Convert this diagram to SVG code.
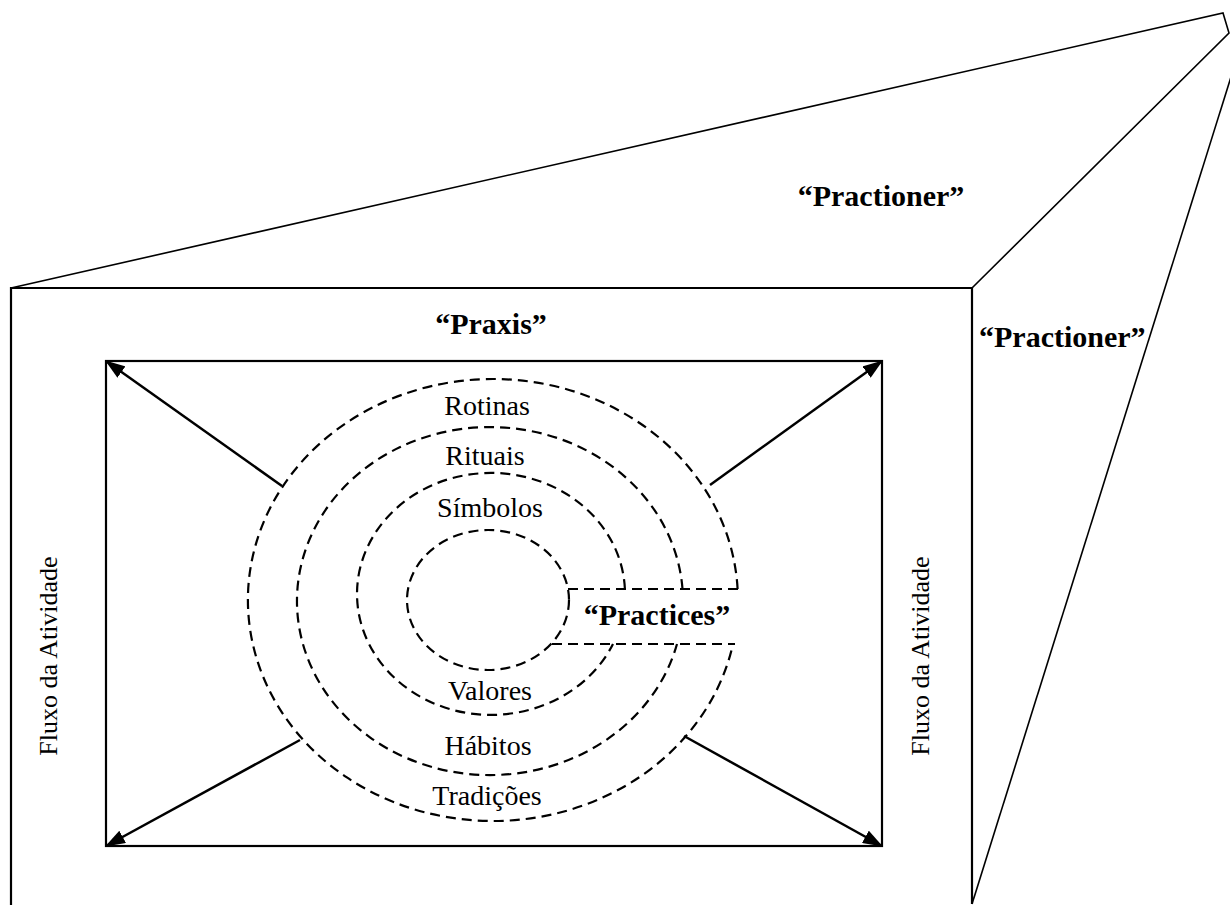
<svg xmlns="http://www.w3.org/2000/svg" width="1230" height="905" viewBox="0 0 1230 905">
  <style>
    .edge { fill: none; stroke: #000; stroke-width: 2.2; }
    .thin { fill: none; stroke: #000; stroke-width: 1.6; }
    .ring { fill: none; stroke: #000; stroke-width: 2.2; stroke-dasharray: 10 6; }
    .arrow { fill: none; stroke: #000; stroke-width: 2.5; marker-end: url(#head); }
    .bold { font-family: "Liberation Serif", "Times New Roman", serif; font-weight: bold; font-size: 30px; fill: #000; }
    .label { font-family: "Liberation Serif", "Times New Roman", serif; font-size: 28px; fill: #000; text-anchor: middle; }
    .flow { font-family: "Liberation Serif", "Times New Roman", serif; font-size: 26px; fill: #000; text-anchor: middle; }
  </style>
  <defs>
    <marker id="head" markerUnits="userSpaceOnUse" viewBox="0 0 20 14" refX="19" refY="7" markerWidth="20" markerHeight="14" orient="auto">
      <path d="M0,0 L20,7 L0,14 z" fill="#000"/>
    </marker>
  </defs>

  <rect width="1230" height="905" fill="#fff"/>

  <!-- 3D block: front face (praxis), top and right faces (practioner) -->
  <g id="praxis-block">
    <path class="edge" d="M11,905 L11,288 L972,288 L972,904"/>
    <path class="thin" d="M11,288 L1223,13 L1229,33 L972,288"/>
    <path class="thin" d="M972,904 L1231,77"/>
  </g>

  <g id="practioner-top">
    <text class="bold" x="881" y="206" text-anchor="middle">“Practioner”</text>
  </g>
  <g id="practioner-side">
    <text class="bold" x="979" y="347">“Practioner”</text>
  </g>
  <g id="praxis-label">
    <text class="bold" x="491" y="334" text-anchor="middle">“Praxis”</text>
  </g>

  <!-- inner activity frame -->
  <g id="activity-frame">
    <rect class="edge" x="106" y="361" width="776" height="485"/>
  </g>

  <g id="flow-left">
    <text class="flow" transform="translate(57,656) rotate(-90)">Fluxo da Atividade</text>
  </g>
  <g id="flow-right">
    <text class="flow" transform="translate(929,656) rotate(-90)">Fluxo da Atividade</text>
  </g>

  <!-- concentric layers, opened on the right for the practices slot -->
  <g id="layer-outer">
    <path class="ring" d="M737.6,589 A245,221 0 1 0 733,644"/>
    <text class="label" x="487" y="415">Rotinas</text>
    <text class="label" x="487" y="805">Tradições</text>
  </g>
  <g id="layer-middle">
    <path class="ring" d="M682.5,589 A193,174 0 1 0 677,644"/>
    <text class="label" x="485" y="465">Rituais</text>
    <text class="label" x="488" y="755">Hábitos</text>
  </g>
  <g id="layer-inner">
    <path class="ring" d="M624.9,589 A134,121 0 1 0 613,644"/>
    <text class="label" x="490" y="517">Símbolos</text>
    <text class="label" x="490" y="700">Valores</text>
  </g>
  <g id="core">
    <ellipse class="ring" cx="488" cy="600" rx="81" ry="70"/>
  </g>
  <g id="practices">
    <path class="ring" d="M568,589 L740,589 M552,644 L735,644"/>
    <text class="bold" x="657" y="625" text-anchor="middle">“Practices”</text>
  </g>

  <!-- flow arrows from the outer layer to the frame corners -->
  <g id="connectors">
    <path class="arrow" d="M282,486 L106,361"/>
    <path class="arrow" d="M710,485 L882,361"/>
    <path class="arrow" d="M300,740 L106,846"/>
    <path class="arrow" d="M684,736 L882,846"/>
  </g>
</svg>
